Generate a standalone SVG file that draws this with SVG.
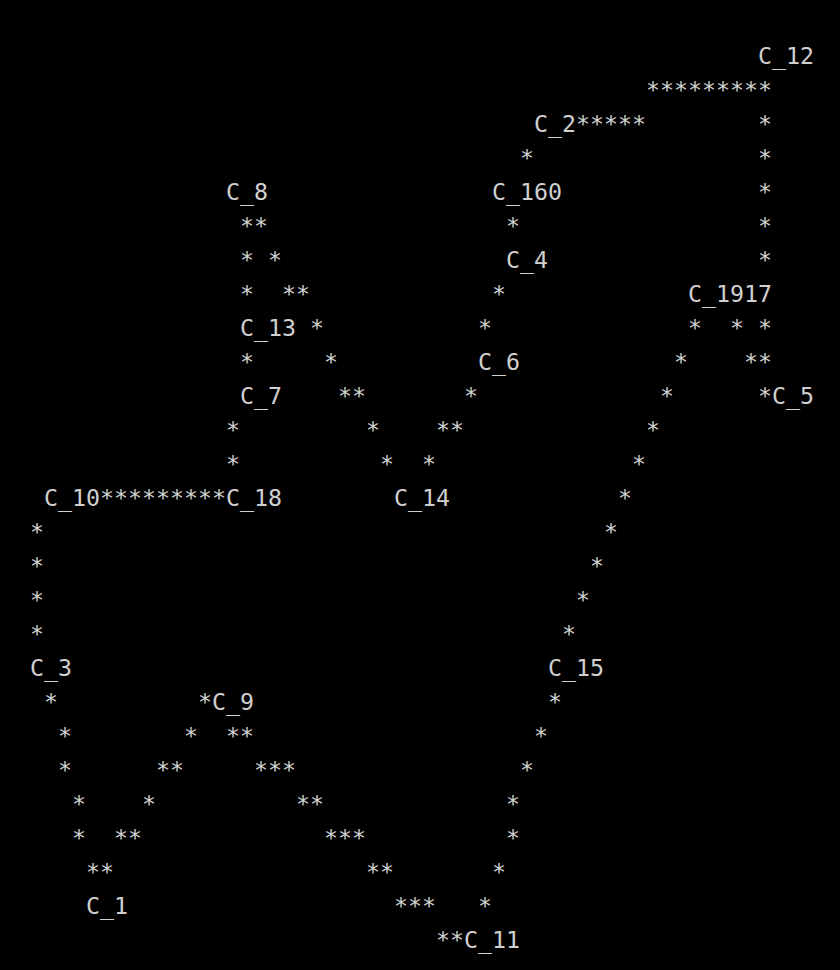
<svg xmlns="http://www.w3.org/2000/svg" width="840" height="970" viewBox="0 0 840 970">
<style>
text{font-family:"DejaVu Sans Mono","Liberation Mono",monospace;font-size:23.25px;fill:#d0d0d0;white-space:pre}
</style>
<rect width="840" height="970" fill="#000"/>
<g id="connectors">
<text x="646" y="98">*********</text>
<text x="576" y="132">*****</text><text x="758" y="132">*</text>
<text x="520" y="166">*</text><text x="758" y="166">*</text>
<text x="758" y="200">*</text>
<text x="240" y="234">**</text><text x="506" y="234">*</text><text x="758" y="234">*</text>
<text x="240" y="268">*</text><text x="268" y="268">*</text><text x="758" y="268">*</text>
<text x="240" y="302">*</text><text x="282" y="302">**</text><text x="492" y="302">*</text>
<text x="310" y="336">*</text><text x="478" y="336">*</text><text x="688" y="336">*</text><text x="730" y="336">*</text><text x="758" y="336">*</text>
<text x="240" y="370">*</text><text x="324" y="370">*</text><text x="674" y="370">*</text><text x="744" y="370">**</text>
<text x="338" y="404">**</text><text x="464" y="404">*</text><text x="660" y="404">*</text><text x="758" y="404">*</text>
<text x="226" y="438">*</text><text x="366" y="438">*</text><text x="436" y="438">**</text><text x="646" y="438">*</text>
<text x="226" y="472">*</text><text x="380" y="472">*</text><text x="422" y="472">*</text><text x="632" y="472">*</text>
<text x="100" y="506">*********</text><text x="618" y="506">*</text>
<text x="30" y="540">*</text><text x="604" y="540">*</text>
<text x="30" y="574">*</text><text x="590" y="574">*</text>
<text x="30" y="608">*</text><text x="576" y="608">*</text>
<text x="30" y="642">*</text><text x="562" y="642">*</text>
<text x="44" y="710">*</text><text x="198" y="710">*</text><text x="548" y="710">*</text>
<text x="58" y="744">*</text><text x="184" y="744">*</text><text x="226" y="744">**</text><text x="534" y="744">*</text>
<text x="58" y="778">*</text><text x="156" y="778">**</text><text x="254" y="778">***</text><text x="520" y="778">*</text>
<text x="72" y="812">*</text><text x="142" y="812">*</text><text x="296" y="812">**</text><text x="506" y="812">*</text>
<text x="72" y="846">*</text><text x="114" y="846">**</text><text x="324" y="846">***</text><text x="506" y="846">*</text>
<text x="86" y="880">**</text><text x="366" y="880">**</text><text x="492" y="880">*</text>
<text x="394" y="914">***</text><text x="478" y="914">*</text>
<text x="436" y="948">**</text>
</g>
<g id="C_12"><text x="758" y="64">C_12</text></g>
<g id="C_2"><text x="534" y="132">C_2</text></g>
<g id="C_160"><text x="492" y="200">C_160</text></g>
<g id="C_8"><text x="226" y="200">C_8</text></g>
<g id="C_4"><text x="506" y="268">C_4</text></g>
<g id="C_1917"><text x="688" y="302">C_1917</text></g>
<g id="C_13"><text x="240" y="336">C_13</text></g>
<g id="C_6"><text x="478" y="370">C_6</text></g>
<g id="C_7"><text x="240" y="404">C_7</text></g>
<g id="C_5"><text x="772" y="404">C_5</text></g>
<g id="C_10"><text x="44" y="506">C_10</text></g>
<g id="C_18"><text x="226" y="506">C_18</text></g>
<g id="C_14"><text x="394" y="506">C_14</text></g>
<g id="C_3"><text x="30" y="676">C_3</text></g>
<g id="C_15"><text x="548" y="676">C_15</text></g>
<g id="C_9"><text x="212" y="710">C_9</text></g>
<g id="C_1"><text x="86" y="914">C_1</text></g>
<g id="C_11"><text x="464" y="948">C_11</text></g>
</svg>
